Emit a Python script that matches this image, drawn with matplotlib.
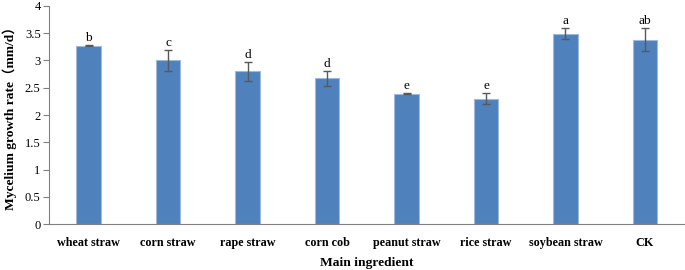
import matplotlib.pyplot as plt
import numpy as np

# data
categories = ['wheat straw', 'corn straw', 'rape straw', 'corn cob',
              'peanut straw', 'rice straw', 'soybean straw', 'CK']
rates = [3.27, 3.0, 2.8, 2.67, 2.39, 2.3, 3.49, 3.38]
errors = [0.01, 0.19, 0.17, 0.13, 0.01, 0.1, 0.1, 0.21]
letters = ['b', 'c', 'd', 'd', 'e', 'e', 'a', 'ab']

plt.rcParams['font.family'] = ['Liberation Serif', 'Noto Sans CJK SC']

fig = plt.figure(figsize=(6.85, 2.7), dpi=100)
ax = fig.add_axes([0.0715, 0.17, 0.928, 0.808])

x = np.arange(len(categories))
ax.bar(x, rates, width=0.31, color='#4F81BD', edgecolor='#9DB9DD', linewidth=0.8,
       yerr=errors, capsize=3,
       error_kw=dict(ecolor='#595959', elinewidth=1, capthick=1))

for xi, r, e, t in zip(x, rates, errors, letters):
    ax.text(xi, r + e + 0.02, t, ha='center', va='bottom', fontsize=9.5)

ax.set_xlim(-0.5, len(categories) - 0.5)
ax.set_ylim(0, 4)
ax.set_yticks(np.arange(0, 4.01, 0.5))
ax.set_yticklabels(['0', '0.5', '1', '1.5', '2', '2.5', '3', '3.5', '4'], fontsize=9)
ax.set_xticks(x)
ax.set_xticklabels(categories, fontsize=8.7, fontweight='bold')
ax.tick_params(axis='x', length=0, pad=9)
ax.tick_params(axis='y', length=4, color='#808080', pad=2)

ax.spines['top'].set_visible(False)
ax.spines['right'].set_visible(False)
ax.spines['left'].set_color('#808080')
ax.spines['bottom'].set_color('#808080')

ax.set_xlabel('Main ingredient', fontsize=9.7, fontweight='bold', labelpad=6)
ax.set_ylabel('Mycelium growth rate（mm/d）', fontsize=9.7, fontweight='bold', labelpad=6)

fig.savefig('out.png', dpi=100)
